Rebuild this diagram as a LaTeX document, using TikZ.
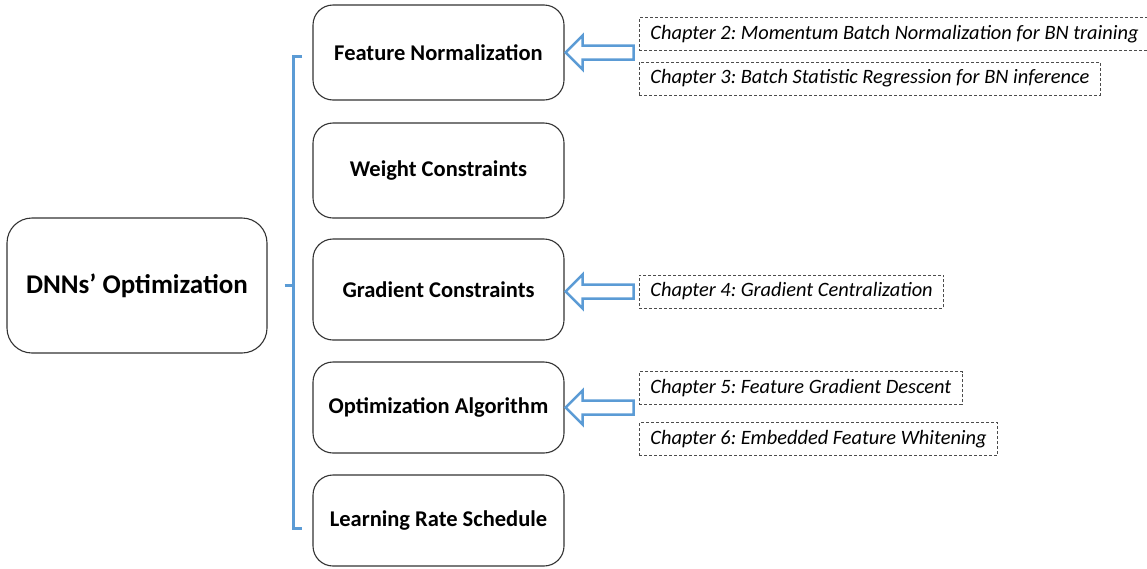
\documentclass[tikz,border=0pt]{standalone}
\usepackage{fontspec}
\setmainfont{Carlito}
\usetikzlibrary{calc}
\definecolor{blockblue}{RGB}{91,155,213}
\frenchspacing

\begin{document}
\begin{tikzpicture}[x=1pt,y=-1pt]

\tikzset{line/.style={draw=black!80,line width=1.1pt}}
\tikzset{topic/.style={line,rounded corners=20pt,minimum width=251pt,font=\fontsize{22.5}{25}\selectfont\bfseries}}
\tikzset{chap/.style={draw=black!70,dash pattern=on 3pt off 2pt,line width=0.9pt,anchor=west,inner xsep=11pt,minimum height=33pt,font=\fontsize{20.4}{22}\selectfont\itshape}}
\tikzset{brace/.style={draw=blockblue,line width=3pt}}
\tikzset{barrow/.style={draw=blockblue,line width=2.5pt,line join=miter}}

\useasboundingbox (0,0) rectangle (1147,568);

\node[line,rounded corners=25pt,minimum width=260pt,minimum height=135pt,font=\fontsize{27}{30}\selectfont\bfseries] (dnn) at (137,285.5) {DNNs’ Optimization};

\node[topic,minimum height=95pt] (fn) at (438.5,52.5) {Feature Normalization};
\node[topic,minimum height=95pt] (wc) at (438.5,170.5) {Weight Constraints};
\node[topic,minimum height=101pt] (gc) at (438.5,289.5) {Gradient Constraints};
\node[topic,minimum height=91pt] (oa) at (438.5,407.5) {Optimization Algorithm};
\node[topic,minimum height=91pt] (lr) at (438.5,520.5) {Learning Rate Schedule};

\coordinate (bt) at (302,56);
\coordinate (bb) at (302,528);
\coordinate (bm) at ($(dnn.east)+(17,0)$);
\path[brace] (bt) -- ++(-9,0) -- ($(bb)+(-9,0)$) -- (bb);
\path[brace] (bm) -- ++(9,0);

\node[chap] (ch2) at (639,34) {Chapter 2: Momentum Batch Normalization for BN training};
\node[chap] (ch3) at (639,78.5) {Chapter 3: Batch Statistic Regression for BN inference};
\node[chap] (ch4) at (639,291.5) {Chapter 4: Gradient Centralization};
\node[chap] (ch5) at (639,388) {Chapter 5: Feature Gradient Descent};
\node[chap] (ch6) at (639,439) {Chapter 6: Embedded Feature Whitening};

\coordinate (a1) at ($(fn.east)+(69,0)$);
\coordinate (a2) at ($(gc.east)+(69,2)$);
\coordinate (a3) at ($(oa.east)+(69,0)$);

\path[barrow] ($(fn.east)+(1,0)$) -- ++(17,-17) -- ++(0,10) -- ($(a1)+(0,-7)$) -- ($(a1)+(0,7)$) -- ($(fn.east)+(18,7)$) -- ++(0,10) -- cycle;
\path[barrow] ($(gc.east)+(1,2)$) -- ++(17,-17) -- ++(0,10) -- ($(a2)+(0,-7)$) -- ($(a2)+(0,7)$) -- ($(gc.east)+(18,9)$) -- ++(0,10) -- cycle;
\path[barrow] ($(oa.east)+(1,0)$) -- ++(17,-17) -- ++(0,10) -- ($(a3)+(0,-7)$) -- ($(a3)+(0,7)$) -- ($(oa.east)+(18,7)$) -- ++(0,10) -- cycle;

\end{tikzpicture}
\end{document}
